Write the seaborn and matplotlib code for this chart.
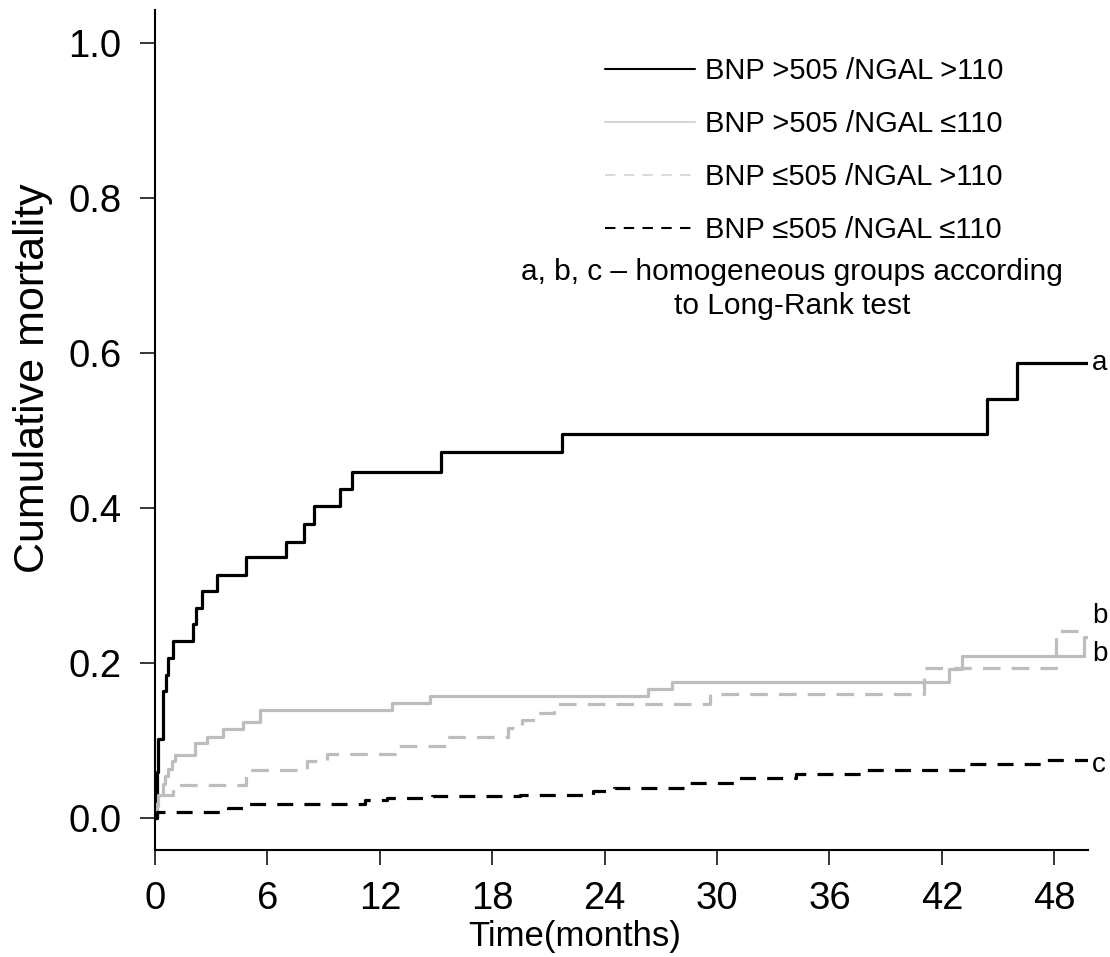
import numpy as np
import pandas as pd
import matplotlib
matplotlib.use("Agg")
import matplotlib.pyplot as plt
from matplotlib.lines import Line2D
import seaborn as sns

# ---------------- data ----------------
groups = ["BNP >505 /NGAL >110", "BNP >505 /NGAL \u2264110",
          "BNP \u2264505 /NGAL >110", "BNP \u2264505 /NGAL \u2264110"]
group_letters = ["a", "b", "b", "c"]

t_a = [0, 0.06, 0.10, 0.18, 0.41, 0.59, 0.71, 0.94, 2.04, 2.19, 2.49, 3.32,
       4.85, 6.99, 7.97, 8.48, 9.87, 10.54, 15.25, 21.75, 44.4, 46.0, 49.8]
v_a = [0, 0.030, 0.059, 0.102, 0.164, 0.185, 0.207, 0.228, 0.250, 0.271, 0.293, 0.314,
       0.337, 0.356, 0.380, 0.402, 0.424, 0.447, 0.472, 0.496, 0.541, 0.587, 0.587]

t_b = [0, 0.10, 0.18, 0.44, 0.53, 0.71, 0.89, 1.05, 2.13, 2.76, 3.61, 4.71, 5.60,
       12.66, 14.7, 26.3, 27.6, 42.36, 43.1, 49.6, 49.8]
v_b = [0, 0.015, 0.030, 0.044, 0.054, 0.063, 0.073, 0.0815, 0.097, 0.105, 0.115, 0.1245, 0.139,
       0.148, 0.157, 0.167, 0.176, 0.192, 0.209, 0.234, 0.234]

t_c = [0, 0.10, 0.98, 4.85, 8.09, 9.16, 13.03, 15.7, 18.84, 19.6, 20.4, 21.3,
       29.6, 41.07, 48.1, 49.8]
v_c = [0, 0.030, 0.043, 0.062, 0.073, 0.083, 0.093, 0.104, 0.116, 0.126, 0.136, 0.147,
       0.160, 0.194, 0.241, 0.241]

t_d = [0, 0.10, 3.9, 4.9, 11.2, 12.4, 14.8, 19.5, 23.4, 24.5, 28.4, 31.0,
       34.2, 37.8, 43.3, 47.6, 49.8]
v_d = [0, 0.008, 0.013, 0.018, 0.023, 0.026, 0.028, 0.030, 0.035, 0.039, 0.045, 0.052,
       0.057, 0.062, 0.070, 0.075, 0.075]

x_ticks = [0, 6, 12, 18, 24, 30, 36, 42, 48]
y_ticks = [0.0, 0.2, 0.4, 0.6, 0.8, 1.0]
y_ticklabels = ["0.0", "0.2", "0.4", "0.6", "0.8", "1.0"]

letter_y = [0.587, 0.261, 0.212, 0.068]

# ---------------- style ----------------
sns.set_style("ticks")
plt.rcParams["font.family"] = ["Liberation Sans", "DejaVu Sans"]
plt.rcParams["text.color"] = "black"
plt.rcParams["axes.labelcolor"] = "black"
plt.rcParams["xtick.color"] = "black"
plt.rcParams["ytick.color"] = "black"
plt.rcParams["xtick.labelcolor"] = "black"
plt.rcParams["ytick.labelcolor"] = "black"

W, H = 1110, 957
fig = plt.figure(figsize=(W / 100, H / 100), dpi=100)
ax = fig.add_axes([155 / W, (H - 850) / H, 933 / W, 840 / H])

series = [
    (t_a, v_a, "black", "-"),
    (t_b, v_b, "#bdbdbd", "-"),
    (t_c, v_c, "#bdbdbd", (0, (5.5, 3.5))),
    (t_d, v_d, "black", (0, (5.0, 3.5))),
]
for (tt, vv, col, ls) in series:
    df = pd.DataFrame({"t": tt, "v": vv})
    sns.lineplot(data=df, x="t", y="v", ax=ax, color=col, linestyle=ls,
                 linewidth=2.3, drawstyle="steps-post", estimator=None,
                 sort=False, legend=False)

ax.set_xlim(0, 49.8)
ax.set_ylim(-0.0413, 1.0426)
ax.set_xticks(x_ticks)
ax.set_xticklabels([str(x) for x in x_ticks])
ax.set_yticks(y_ticks)
ax.set_yticklabels(y_ticklabels)
ax.tick_params(axis="y", length=11, width=1.1, pad=13, labelsize=27.5,
               color="black", labelcolor="black")
ax.tick_params(axis="x", length=10.5, width=1.1, pad=11.5, labelsize=27.5,
               color="black", labelcolor="black")
for side in ["top", "right"]:
    ax.spines[side].set_visible(False)
for side in ["left", "bottom"]:
    ax.spines[side].set_linewidth(1.5)
    ax.spines[side].set_color("black")

ax.set_xlabel("Time(months)", fontsize=25, color="black")
ax.xaxis.set_label_coords((575 - 155) / 933, (850 - 920) / 840)
ax.set_ylabel("Cumulative mortality", fontsize=31, color="black")
ax.yaxis.set_label_coords((53 - 155) / 933, (850 - 378) / 840)

# group letters at line ends
for lab, yy in zip(group_letters, letter_y):
    ax.text(50.02, yy, lab, fontsize=20, ha="left", va="center",
            color="black", clip_on=False)

# legend
handles = [
    Line2D([], [], color="black", lw=1.5, linestyle="-"),
    Line2D([], [], color="#d6d6d6", lw=1.5, linestyle="-"),
    Line2D([], [], color="#dadada", lw=1.5, linestyle=(0, (5, 4))),
    Line2D([], [], color="black", lw=1.5, linestyle=(0, (5, 4))),
]
leg = ax.legend(handles, groups, loc="upper left",
                bbox_to_anchor=(605 / W, 1 - 57 / H), bbox_transform=fig.transFigure,
                frameon=False, fontsize=21, borderpad=0, borderaxespad=0,
                handlelength=3.09, handletextpad=0.34, labelspacing=0.86)
for txt in leg.get_texts():
    txt.set_color("black")

fig.text(792 / W, 1 - 258 / H,
         "a, b, c \u2013 homogeneous groups according\nto Long-Rank test",
         ha="center", va="top", fontsize=21.5, linespacing=1.25, color="black")

fig.savefig("out.png", dpi=100)
